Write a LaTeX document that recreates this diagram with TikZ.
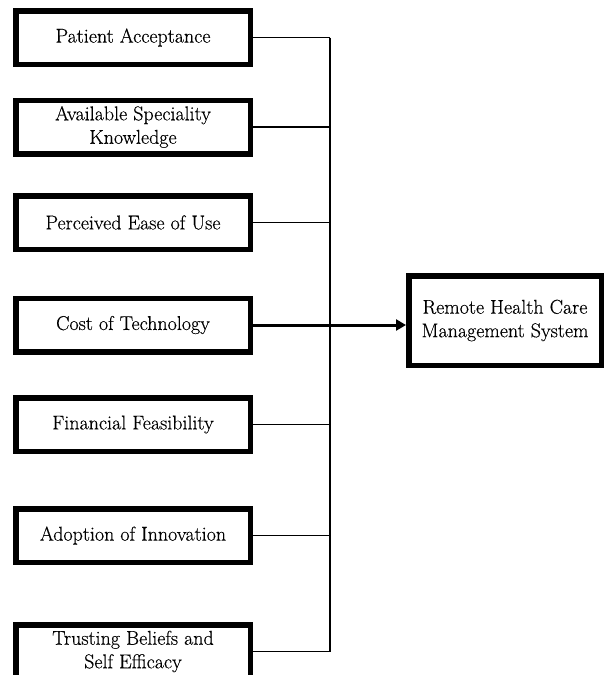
\documentclass[tikz,border=0pt]{standalone}
\usepackage{fontspec}
\setmainfont{Latin Modern Roman}[FakeBold=0.35]
\usetikzlibrary{arrows.meta}
\begin{document}
\begin{tikzpicture}[x=1pt,y=1pt,
  factor/.style={draw=black,line width=5.5pt,fill=white,minimum width=234.5pt,minimum height=53.5pt,
    align=center,inner sep=0pt,font=\fontsize{20}{23.5}\selectfont},
  target/.style={draw=black,line width=5.5pt,fill=white,minimum width=192.5pt,minimum height=89.5pt,
    align=center,inner sep=0pt,font=\fontsize{20}{23.5}\selectfont},
  conn/.style={line width=1.8pt},
  spineline/.style={line width=1.5pt},
  mainarrow/.style={line width=3pt,-{Triangle[length=10pt,width=11pt]}}]
\useasboundingbox (0,0) rectangle (607,-675);
\clip (0,0) rectangle (607,-675);
\coordinate (spine) at (330,0);
\node[factor] (b1) at (133,-37.5) {Patient Acceptance};
\node[factor] (b2) at (133,-127) {Available Speciality\\Knowledge};
\node[factor] (b3) at (133,-222.5) {Perceived Ease of Use};
\node[factor] (b4) at (133,-325) {Cost of Technology};
\node[factor] (b5) at (133,-424.5) {Financial Feasibility};
\node[factor] (b6) at (133,-535.5) {Adoption of Innovation};
\node[factor] (b7) at (133,-651.5) {Trusting Beliefs and\\Self Efficacy};
\node[target] (rhc) at (505,-320.5) {Remote Health Care\\Management System};
\draw[spineline] (b1.east -| spine) -- (b7.east -| spine);
\foreach \b in {b1,b2,b3,b5,b6,b7}{
  \draw[conn] (\b.east) -- (\b.east -| spine);
}
\draw[mainarrow] (b4.east) -- (b4.east -| rhc.west);
\end{tikzpicture}
\end{document}
